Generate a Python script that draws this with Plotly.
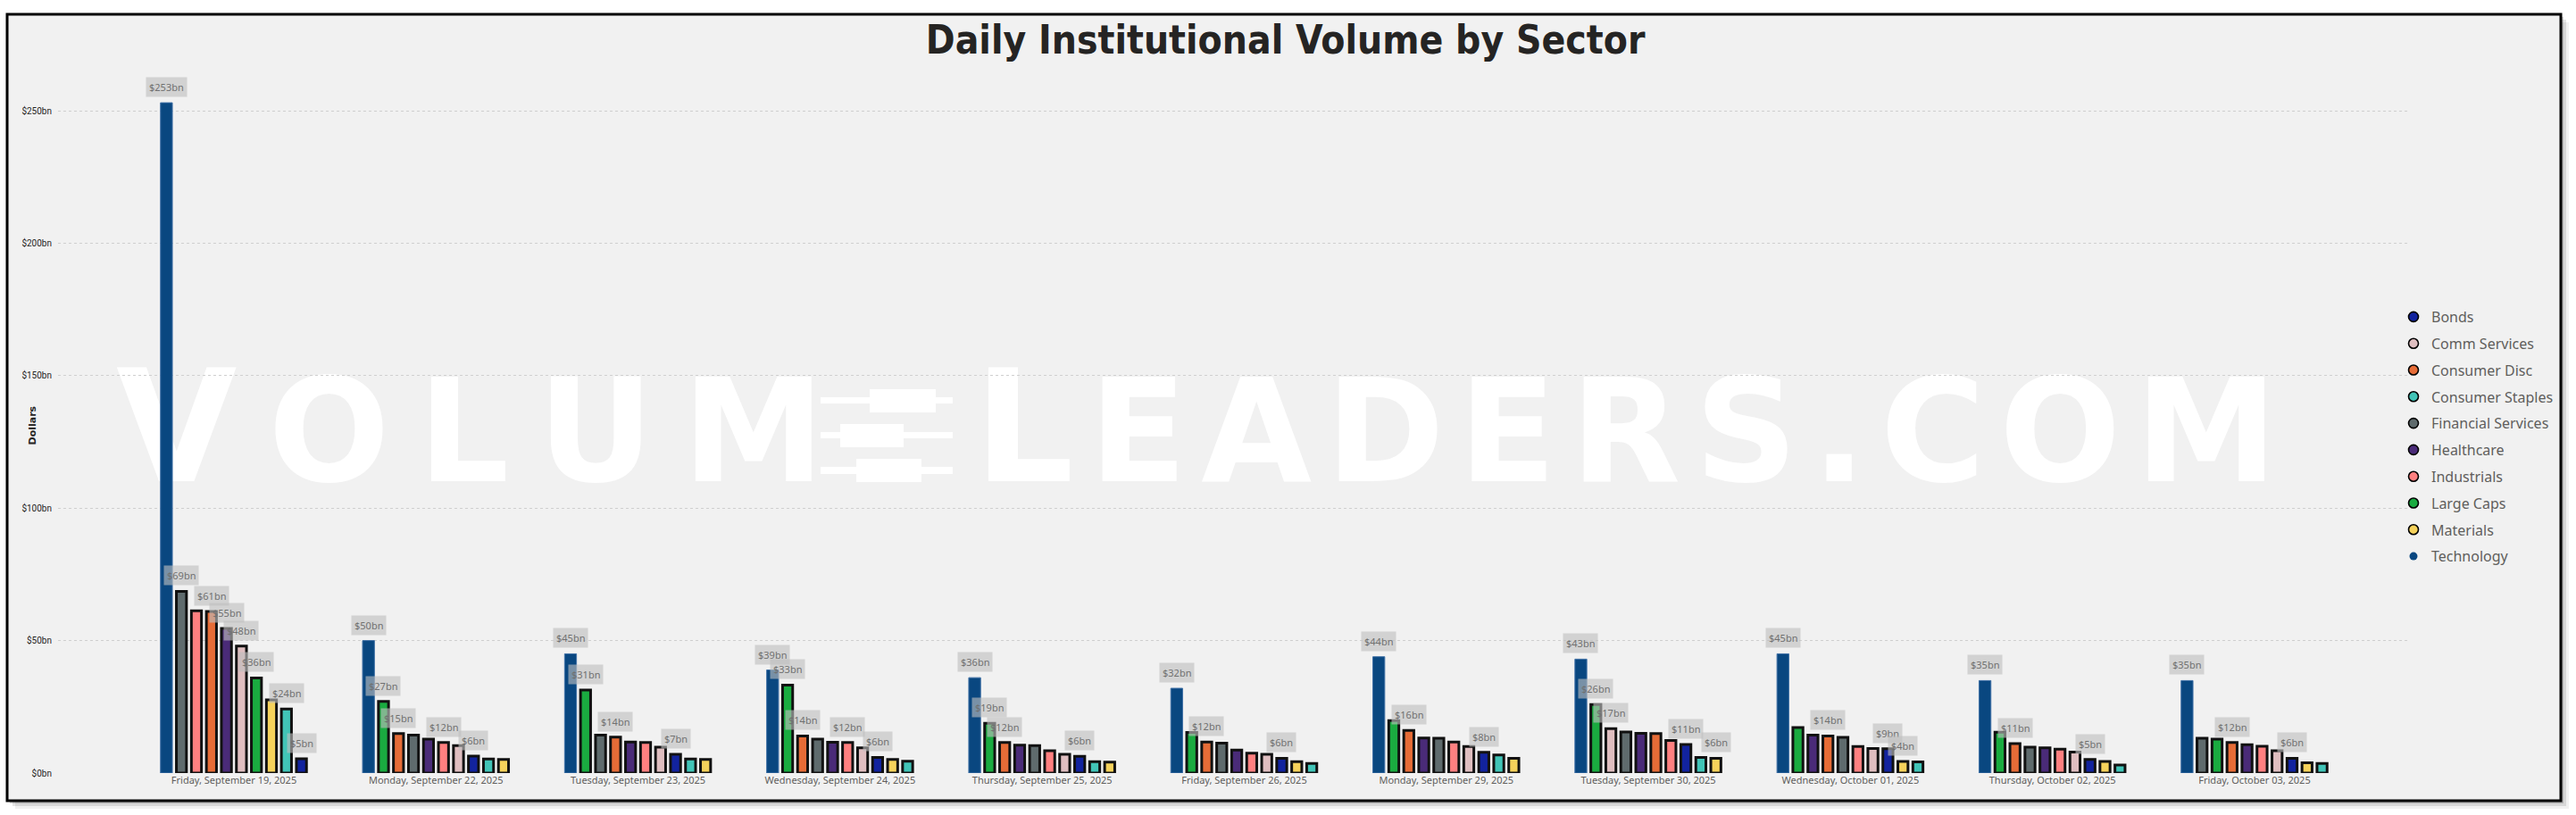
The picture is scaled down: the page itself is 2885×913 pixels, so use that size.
import plotly.graph_objects as go

# ---- data (values in $bn) -------------------------------------------------
dates = [
    "Friday, September 19, 2025",
    "Monday, September 22, 2025",
    "Tuesday, September 23, 2025",
    "Wednesday, September 24, 2025",
    "Thursday, September 25, 2025",
    "Friday, September 26, 2025",
    "Monday, September 29, 2025",
    "Tuesday, September 30, 2025",
    "Wednesday, October 01, 2025",
    "Thursday, October 02, 2025",
    "Friday, October 03, 2025",
]

technology = [253.0, 50.0, 45.0, 38.9, 36.0, 32.0, 43.9, 43.0, 45.0, 34.9, 34.9]
financial_services = [68.6, 14.3, 14.3, 12.8, 10.4, 11.3, 13.1, 15.5, 13.5, 9.8, 13.1]
industrials = [61.2, 11.5, 11.5, 11.5, 8.4, 7.5, 11.7, 12.3, 10.0, 9.0, 10.1]
consumer_disc = [61.0, 14.9, 13.6, 14.0, 11.5, 11.7, 16.1, 14.9, 14.0, 11.1, 11.5]
healthcare = [54.6, 12.8, 11.7, 11.6, 10.5, 8.7, 13.2, 15.0, 14.3, 9.5, 10.7]
comm_services = [47.9, 10.4, 9.8, 9.5, 7.1, 7.1, 10.0, 16.8, 9.3, 7.9, 8.4]
large_caps = [35.9, 27.0, 31.3, 33.2, 18.8, 15.3, 19.8, 25.9, 17.2, 15.4, 12.8]
materials = [27.6, 5.1, 5.1, 5.1, 4.1, 4.3, 5.6, 5.6, 4.4, 4.4, 3.9]
consumer_staples = [24.2, 5.3, 5.3, 4.5, 4.3, 3.6, 6.8, 5.9, 4.2, 3.0, 3.6]
bonds = [5.4, 6.4, 7.1, 5.9, 6.3, 5.6, 7.8, 10.8, 9.2, 5.1, 5.6]

series = {
    "Bonds": bonds,
    "Comm Services": comm_services,
    "Consumer Disc": consumer_disc,
    "Consumer Staples": consumer_staples,
    "Financial Services": financial_services,
    "Healthcare": healthcare,
    "Industrials": industrials,
    "Large Caps": large_caps,
    "Materials": materials,
    "Technology": technology,
}

# which bars carry a visible data label (Power BI hides the overlapping ones)
labelled = [
    ["Technology", "Financial Services", "Consumer Disc", "Healthcare",
     "Comm Services", "Large Caps", "Consumer Staples", "Bonds"],
    ["Technology", "Large Caps", "Consumer Disc", "Industrials", "Bonds"],
    ["Technology", "Large Caps", "Consumer Disc", "Bonds"],
    ["Technology", "Large Caps", "Consumer Disc", "Industrials", "Bonds"],
    ["Technology", "Large Caps", "Consumer Disc", "Bonds"],
    ["Technology", "Consumer Disc", "Bonds"],
    ["Technology", "Consumer Disc", "Bonds"],
    ["Technology", "Large Caps", "Comm Services", "Bonds", "Materials"],
    ["Technology", "Consumer Disc", "Bonds", "Materials"],
    ["Technology", "Consumer Disc", "Bonds"],
    ["Technology", "Consumer Disc", "Bonds"],
]

y_ticks = [0, 50, 100, 150, 200, 250]
y_tick_text = ["$0bn", "$50bn", "$100bn", "$150bn", "$200bn", "$250bn"]

COLORS = {
    "Bonds": "#12239E",
    "Comm Services": "#DFBEC0",
    "Consumer Disc": "#E66C37",
    "Consumer Staples": "#41C4B7",
    "Financial Services": "#5F6B6D",
    "Healthcare": "#4A2B78",
    "Industrials": "#FF8080",
    "Large Caps": "#1AAB40",
    "Materials": "#F5D25B",
    "Technology": "#094780",
}

# ---- geometry -------------------------------------------------------------
W, H = 2885, 913
L, R, T, B = 65, 2698, 70, 866          # plot area in px
X_RANGE = [-0.8705, 10.7645]
CAT_PX = (R - L) / (X_RANGE[1] - X_RANGE[0])
PITCH = 16.8 / CAT_PX
BAR_W = 14.3 / CAT_PX
OUTLINE = 3
UI_FONT = "Noto Sans, Open Sans, sans-serif"


def px_x(px):
    return (px - L) / (R - L)


def px_y(py):
    return (B - py) / (B - T)


# rank of every sector inside each day (tallest first)
names = list(series)
ranks = {n: [0] * len(dates) for n in names}
for i in range(len(dates)):
    order = sorted(names, key=lambda n: -series[n][i])
    for r, n in enumerate(order):
        ranks[n][i] = r


def slot_center(rank):
    return -4.5 * PITCH + rank * PITCH


fig = go.Figure()

# legend entries (circles, alphabetical)
for n in names:
    tech = n == "Technology"
    fig.add_trace(go.Scatter(
        x=[None], y=[None], mode="markers", name=n, legendgroup=n,
        marker=dict(symbol="circle", size=9 if tech else 11, color=COLORS[n],
                    line=dict(color="#000000", width=0 if tech else 1.6)),
        hoverinfo="skip",
    ))

for n in names:
    tech = n == "Technology"
    lw = 1 if tech else OUTLINE
    w = BAR_W - lw / CAT_PX
    fig.add_trace(go.Bar(
        x=dates, y=series[n], name=n, legendgroup=n, showlegend=False,
        width=w,
        offset=[slot_center(r) - w / 2 for r in ranks[n]],
        marker=dict(color=COLORS[n],
                    line=dict(color="#3F70A6" if tech else "#111111", width=lw)),
        hovertemplate="%{x}<br>" + n + ": $%{y:.1f}bn<extra></extra>",
    ))

annotations = []
for i, keep in enumerate(labelled):
    for n in keep:
        v = series[n][i]
        annotations.append(dict(
            x=i + slot_center(ranks[n][i]), y=v, xref="x", yref="y",
            text=f"${int(v + 0.5)}bn", showarrow=False,
            yanchor="bottom", yshift=6,
            font=dict(family=UI_FONT, size=11, color="#707070"),
            bgcolor="rgba(190,190,190,0.62)", borderpad=3,
        ))

annotations.append(dict(
    x=px_x(27), y=px_y(477), xref="paper", yref="paper", text="<b>Dollars</b>",
    textangle=-90, showarrow=False,
    font=dict(family="DejaVu Sans", size=11, color="#252423"),
))

# ---- background frame, shadow and watermark ------------------------------
shapes = []
for off, alpha in ((9, 0.06), (6, 0.10), (3, 0.16)):
    shapes.append(dict(
        type="rect", xref="paper", yref="paper", layer="below",
        x0=px_x(8 + off), x1=px_x(2868 + off), y0=px_y(897 + off), y1=px_y(16 + off),
        fillcolor=f"rgba(0,0,0,{alpha})", line=dict(width=0),
    ))
shapes.append(dict(
    type="rect", xref="paper", yref="paper", layer="below",
    x0=px_x(8), x1=px_x(2868), y0=px_y(897), y1=px_y(16),
    fillcolor="#F1F1F1", line=dict(color="#000000", width=3),
))

WM_FONT = "DejaVu Sans"
thin = "\u2009"
hair = "\u200a"
small = 160
shapes.append(dict(
    type="rect", xref="paper", yref="paper", layer="below",
    x0=px_x(127), x1=px_x(905), y0=px_y(567), y1=px_y(390),
    fillcolor="rgba(0,0,0,0)", line=dict(width=0),
    label=dict(
        text="V" + thin + f"<span style='font-size:{small}px'>" + thin.join("OLUM") + "</span>",
        textposition="bottom left", padding=0,
        font=dict(family=WM_FONT, size=175, color="#FFFFFF", weight="bold"),
    ),
))
shapes.append(dict(
    type="rect", xref="paper", yref="paper", layer="below",
    x0=px_x(1088), x1=px_x(2600), y0=px_y(567), y1=px_y(390),
    fillcolor="rgba(0,0,0,0)", line=dict(width=0),
    label=dict(
        text="L" + hair + f"<span style='font-size:{small}px'>" + hair.join("EADERS.COM") + "</span>",
        textposition="bottom left", padding=0,
        font=dict(family=WM_FONT, size=175, color="#FFFFFF", weight="bold"),
    ),
))
# candlestick icon standing in for the first "E"
for (ly0, ly1), (bx0, bx1, by0, by1) in zip(
    [(445, 452), (484, 491), (523, 531)],
    [(974, 1048, 436, 462), (941, 1012, 475, 501), (959, 1032, 514, 540)],
):
    shapes.append(dict(type="rect", xref="paper", yref="paper", layer="below",
                       x0=px_x(919), x1=px_x(1067), y0=px_y(ly1), y1=px_y(ly0),
                       fillcolor="#FFFFFF", line=dict(width=0)))
    shapes.append(dict(type="rect", xref="paper", yref="paper", layer="below",
                       x0=px_x(bx0), x1=px_x(bx1), y0=px_y(by1), y1=px_y(by0),
                       fillcolor="#FFFFFF", line=dict(width=0)))

fig.update_layout(
    width=W, height=H,
    margin=dict(l=L, r=W - R, t=T, b=H - B, pad=0),
    paper_bgcolor="#FFFFFF",
    plot_bgcolor="rgba(0,0,0,0)",
    barmode="overlay",
    title=dict(
        text="Daily Institutional Volume by Sector",
        x=0.499, xref="container", xanchor="center",
        y=1 - 45 / H, yref="container", yanchor="middle",
        font=dict(family="DejaVu Sans Condensed, Roboto, sans-serif", size=44,
                  color="#252423", weight="bold"),
    ),
    legend=dict(
        x=px_x(2683), xanchor="left", y=px_y(338), yanchor="top",
        bgcolor="rgba(0,0,0,0)", tracegroupgap=6, traceorder="grouped",
        font=dict(family=UI_FONT, size=16, color="#605E5C"),
        itemsizing="trace",
    ),
    shapes=shapes,
    annotations=annotations,
    showlegend=True,
)

fig.update_xaxes(
    type="category", range=X_RANGE, showgrid=False, zeroline=False, showline=False,
    ticks="", tickfont=dict(family=UI_FONT, size=11, color="#605E5C"),
)
fig.update_yaxes(
    range=[0, (B - T) / ((B - 124) / 250)],
    tickvals=y_ticks, ticktext=y_tick_text,
    showgrid=True, gridcolor="#CFCFCF", griddash="dot", gridwidth=1,
    zeroline=False, showline=False, ticks="", ticklabelstandoff=6,
    tickfont=dict(family="Roboto, sans-serif", size=10, color="#252423"),
)

fig.write_html("out.html", config={"displayModeBar": False},
               post_script="document.body.style.margin='0';")
